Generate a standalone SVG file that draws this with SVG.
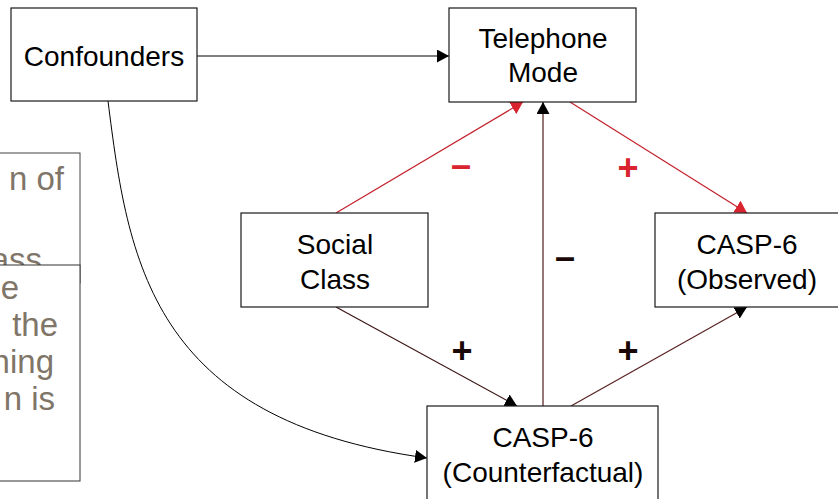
<svg xmlns="http://www.w3.org/2000/svg" width="838" height="499" viewBox="0 0 838 499">
  <style>
    .box { fill: #ffffff; stroke: #1a1a1a; stroke-width: 1.2; }
    .lbl { font-family: "Liberation Sans", Arial, sans-serif; font-size: 28px; fill: #000000; text-anchor: middle; }
    .side { font-family: "Liberation Sans", Arial, sans-serif; font-size: 33px; fill: #7f7568; text-anchor: end; }
    .sign { font-family: "Liberation Sans", Arial, sans-serif; font-size: 36px; font-weight: bold; text-anchor: middle; }
    .red { fill: #d9232e; }
    .dark { fill: #1a0808; }
  </style>
  <defs>
    <marker id="ahBlack" markerUnits="userSpaceOnUse" markerWidth="13" markerHeight="13" refX="12" refY="6.5" orient="auto">
      <path d="M0,0 L12,6.5 L0,13 z" fill="#000000"/>
    </marker>
    <marker id="ahRed" markerUnits="userSpaceOnUse" markerWidth="13" markerHeight="14" refX="12" refY="7" orient="auto">
      <path d="M0,0 L12,7 L0,14 z" fill="#d9232e"/>
    </marker>
  </defs>

  <rect width="838" height="499" fill="#ffffff"/>

  <!-- text panels running off the left edge -->
  <g id="panel-upper">
    <rect x="-20" y="153" width="100" height="130" fill="#ffffff" stroke="#444444" stroke-width="1"/>
    <text class="side" x="64" y="190">n of</text>
    <text class="side" x="42" y="271">ass</text>
  </g>
  <g id="panel-lower">
    <rect x="-20" y="265" width="100" height="216" fill="#ffffff" stroke="#333333" stroke-width="1"/>
    <text class="side" x="19" y="299">e</text>
    <text class="side" x="58" y="336">the</text>
    <text class="side" x="54" y="373">ning</text>
    <text class="side" x="55" y="410">n is</text>
  </g>

  <g id="connectors" fill="none">
    <path d="M197,56 L449,56" stroke="#000000" stroke-width="1" marker-end="url(#ahBlack)"/>
    <path d="M108,101 C128,260 150,420 427,458" stroke="#000000" stroke-width="1" marker-end="url(#ahBlack)"/>
    <path d="M336,213 L523,102" stroke="#c3202b" stroke-width="1.2" marker-end="url(#ahRed)"/>
    <path d="M570,102 L747,213" stroke="#c3202b" stroke-width="1.2" marker-end="url(#ahRed)"/>
    <path d="M336,307 L517,406" stroke="#3d1515" stroke-width="1.2" marker-end="url(#ahBlack)"/>
    <path d="M543,406 L543,102" stroke="#7d5454" stroke-width="1.6" marker-end="url(#ahBlack)"/>
    <path d="M571,406 L747,307" stroke="#5a2020" stroke-width="1.2" marker-end="url(#ahBlack)"/>
  </g>

  <g id="signs">
    <text class="sign red" x="461" y="177">–</text>
    <text class="sign red" x="628" y="180">+</text>
    <text class="sign dark" x="565" y="269">–</text>
    <text class="sign dark" x="462" y="363">+</text>
    <text class="sign dark" x="628" y="363">+</text>
  </g>

  <g id="confounders">
    <rect class="box" x="11" y="8" width="186" height="93"/>
    <text class="lbl" x="104" y="66">Confounders</text>
  </g>
  <g id="telephone-mode">
    <rect class="box" x="449" y="8" width="187" height="94"/>
    <text class="lbl" x="543" y="48">Telephone</text>
    <text class="lbl" x="543" y="82">Mode</text>
  </g>
  <g id="social-class">
    <rect class="box" x="241" y="213" width="187" height="94"/>
    <text class="lbl" x="335" y="254">Social</text>
    <text class="lbl" x="335" y="289">Class</text>
  </g>
  <g id="casp-observed">
    <rect class="box" x="655" y="213" width="190" height="94"/>
    <text class="lbl" x="747" y="254">CASP-6</text>
    <text class="lbl" x="747" y="289">(Observed)</text>
  </g>
  <g id="casp-counterfactual">
    <rect class="box" x="427" y="406" width="231" height="100"/>
    <text class="lbl" x="543" y="447">CASP-6</text>
    <text class="lbl" x="543" y="482">(Counterfactual)</text>
  </g>
</svg>
